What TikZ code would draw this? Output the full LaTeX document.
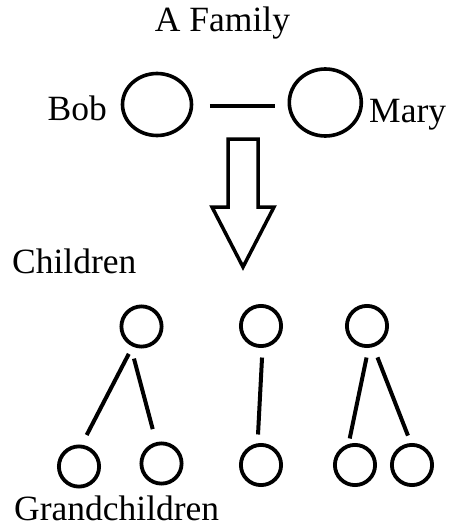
\documentclass[tikz,border=0pt]{standalone}
\usepackage{fontspec}
\setmainfont{Liberation Serif}
\usetikzlibrary{shapes.geometric}
\begin{document}
\begin{tikzpicture}[x=1pt,y=-1pt,
  lbl/.style={inner sep=0pt,font=\fontsize{35.5}{38}\selectfont},
  parent/.style={draw,ellipse,line width=3.6pt,inner sep=0pt},
  kid/.style={draw,circle,line width=3.8pt,inner sep=0pt,minimum size=40.2pt},
  link/.style={line width=4pt},
  bigarrow/.style={draw,line width=3.5pt,line join=miter}]
\useasboundingbox (0,0) rectangle (451,527);
\node[lbl,anchor=base] (title) at (222.5,32) {A Family};
\node[parent,minimum width=69pt,minimum height=62pt] (bob) at (157,104.5) {};
\node[parent,minimum width=72pt,minimum height=67pt] (mary) at (325.3,102.5) {};
\node[lbl,anchor=base east] (boblbl) at (107,120) {Bob};
\node[lbl,anchor=base west] (marylbl) at (369,122) {Mary};
\draw[link,shorten <=16.5pt,shorten >=12.5pt] ([yshift=-1.5pt]bob.east) -- ([yshift=-3.5pt]mary.west);
\coordinate (atop) at (243,139);
\draw[bigarrow] (atop) ++(-15,0) -- ++(30,0) -- ++(0,68) -- ++(16,0) -- (243,267) -- ++(-31,-60) -- ++(16,0) -- cycle;
\node[lbl,anchor=base west] (children) at (12,273) {Children};
\node[kid] (c1) at (141.5,326.5) {};
\node[kid] (c2) at (261,326) {};
\node[kid] (c3) at (367,326) {};
\node[kid] (g1) at (79,466.5) {};
\node[kid] (g2) at (161.5,463.5) {};
\node[kid] (g3) at (261,465) {};
\node[kid] (g4) at (355,465) {};
\node[kid] (g5) at (412,465) {};
\node[lbl,anchor=base west] (grand) at (14,520) {Grandchildren};
\draw[link,shorten <=8.2pt,shorten >=10.9pt] (c1.246.4) -- (g1.83.3);
\draw[link,shorten <=13.5pt,shorten >=13.5pt] (c1.240.6) -- (g2.104);
\draw[link,shorten <=9.6pt,shorten >=8.8pt] (c2.274.2) -- (g3.99.6);
\draw[link,shorten <=9.8pt,shorten >=5.6pt] (c3.274.9) -- (g4.107.3);
\draw[link,shorten <=11.1pt,shorten >=8pt] (c3.287.3) -- (g5.93.3);
\end{tikzpicture}
\end{document}
